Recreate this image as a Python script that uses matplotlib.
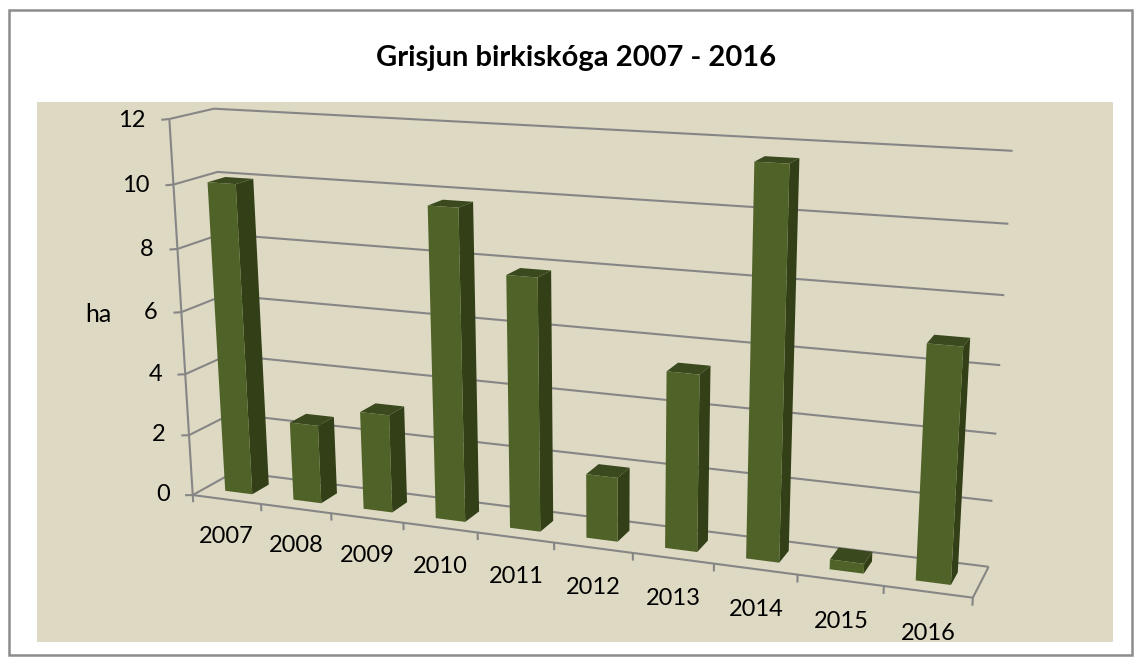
"""Grisjun birkiskoga 2007 - 2016, 3D columns in a perspective view"""

import numpy as np
import matplotlib
matplotlib.use("Agg")
import matplotlib.pyplot as plt
from matplotlib.patches import Rectangle
from mpl_toolkits.mplot3d import proj3d

years = ["2007", "2008", "2009", "2010", "2011", "2012", "2013", "2014", "2015", "2016"]
hectares = [10.0, 2.55, 3.15, 9.75, 7.85, 2.0, 5.4, 11.6, 0.3, 6.9]
y_ticks = [0, 2, 4, 6, 8, 10, 12]

plt.rcParams["font.family"] = ["Lato", "DejaVu Sans"]

W, H = 1141, 664
PANEL = "#DDD9C3"
GRID = "#868686"
FRONT = "#4F6228"
SIDE = "#323F17"
TOP = "#3B4A1E"
NONE = (0, 0, 0, 0)

fig = plt.figure(figsize=(W / 100, H / 100), dpi=100)
fig.patch.set_facecolor("white")

fig.add_artist(Rectangle((8.5 / W, 1 - 655 / H), 1123.5 / W, 645 / H, transform=fig.transFigure,
                         facecolor="white", edgecolor="#8C8C8C", linewidth=1.8, zorder=-2))
fig.add_artist(Rectangle((37 / W, 1 - 642 / H), 1076 / W, 540 / H, transform=fig.transFigure,
                         facecolor=PANEL, edgecolor="none", zorder=-1))

# square 3d axes bigger than the figure, 3d artists are then never clipped
ax = fig.add_axes([0, -(W - H) / 2 / H, 1, W / H], projection="3d", computed_zorder=False)
ax.set_axis_off()
ax.patch.set_alpha(0)
ax.set_proj_type("ortho")  # only switches off the line clipping, the matrix comes from below
ax.apply_aspect()

# camera fitted on where the chart box sits in the picture: (x, depth, value) -> pixel
world = np.array([
    (0, 0, 0), (0, 0, 2), (0, 0, 8), (0, 0, 10), (0, 0, 12),
    (1, 0, 0), (2, 0, 0), (3, 0, 0), (8, 0, 0), (9, 0, 0), (10, 0, 0),
    (0, 1, 12), (0, 1, 10), (0, 1, 0),
    (10, 1, 12), (10, 1, 10), (10, 1, 8), (10, 1, 2), (10, 1, 0),
], dtype=float)
pixels = np.array([
    (192, 496), (189, 435), (178, 249), (174, 185), (170, 119),
    (260, 504), (331, 513), (403, 522), (798, 575), (884, 585), (973, 598),
    (213, 108), (217, 172), (236, 472),
    (1013, 151), (1008, 224), (1004, 295), (993, 501), (988, 567),
], dtype=float)
view = ax.transData.inverted().transform(np.column_stack([pixels[:, 0], H - pixels[:, 1]]))

rows = []
rhs = []
for (x, y, z), (u, v) in zip(world, view):
    rows.append([x, y, z, 1, 0, 0, 0, 0, -u * x, -u * y, -u * z])
    rows.append([0, 0, 0, 0, x, y, z, 1, -v * x, -v * y, -v * z])
    rhs += [u, v]
h = np.linalg.lstsq(np.array(rows), np.array(rhs), rcond=None)[0]
M = np.array([h[:4], h[4:8], [0, 1, 0, 0], [h[8], h[9], h[10], 1]])
ax.get_proj = lambda: M


def line(xs, ys, zs, lw=1.5):
    ax.plot(xs, ys, zs, color=GRID, linewidth=lw, zorder=1, solid_capstyle="butt")


def label(x, y, z, text, **kw):
    # plain figure text placed on the projected point
    u, v, _ = proj3d.proj_transform(x, y, z, M)
    px = ax.transData.transform((u, v))
    fig.text(px[0] / W, px[1] / H, text, va="center", color="black", **kw)


# walls and floor
for v in y_ticks:
    line([-0.115, 0], [0, 0], [v - 0.04, v])
    line([0, 0, 10], [0, 1, 1], [v, v, v])
    label(-0.345, 0, v - 0.08, str(v), fontsize=17, ha="right")
line([0, 0], [0, 0], [0, 12])
line([0, 10, 10], [0, 0, 1], [0, 0, 0])
for i in range(11):
    line([i, i], [0, 0], [0, -0.24])

# columns, only the three faces you can see get a colour
n = len(hectares)
pos = np.arange(n)
face_colors = [NONE, TOP, FRONT, NONE, NONE, SIDE] * n
ax.bar3d(pos + 0.3, np.full(n, 0.29), np.zeros(n), np.full(n, 0.4), np.full(n, 0.41), hectares,
         color=face_colors, shade=False, zorder=2, linewidth=0)

for i, year in enumerate(years):
    label(i + 0.5 + (i - 4.5) * 0.007, 0, -1.25, year, fontsize=17, ha="center")

fig.text(576 / W, 1 - 58 / H, "Grisjun birkiskóga 2007 - 2016", fontsize=21, fontweight="bold",
         ha="center", va="center", color="black")
fig.text(98 / W, 1 - 315 / H, "ha", fontsize=18, ha="center", va="center", color="black")

fig.savefig("out.png", dpi=100)
